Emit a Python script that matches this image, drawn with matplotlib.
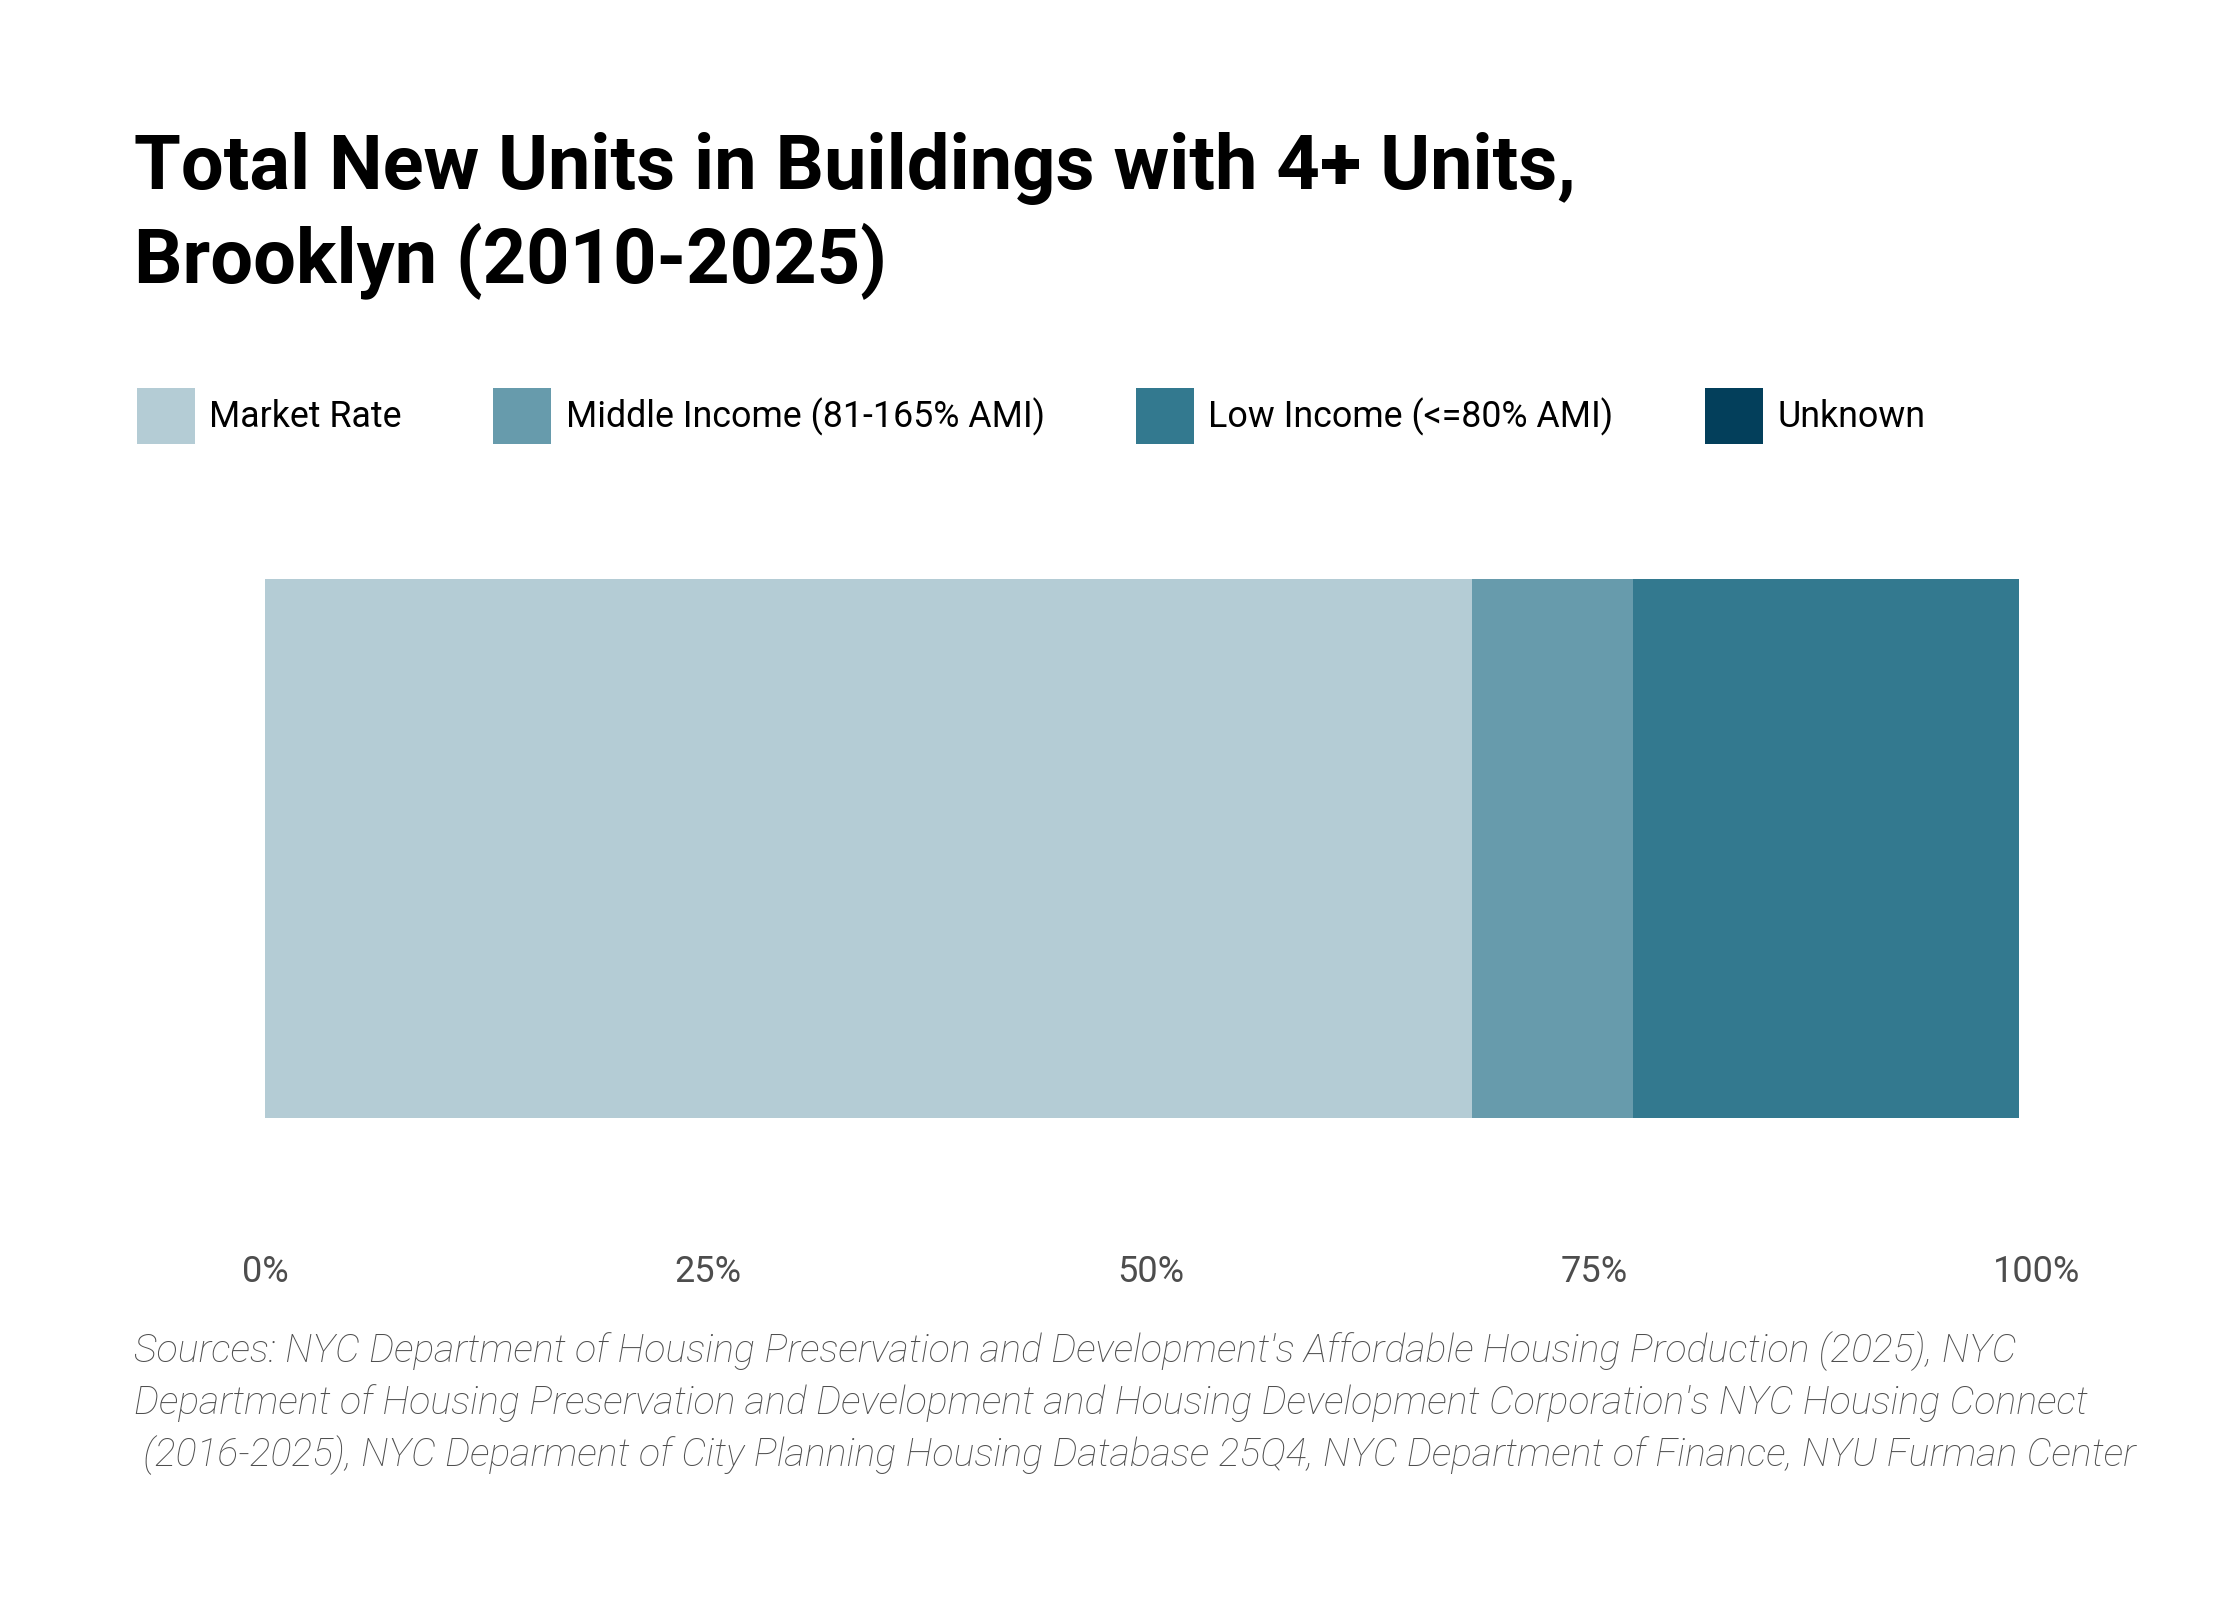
import matplotlib
matplotlib.use("Agg")
import matplotlib.pyplot as plt
from matplotlib import font_manager
from matplotlib.patches import Patch

# data (share of new units, %)
categories = ["Market Rate", "Middle Income (81-165% AMI)", "Low Income (<=80% AMI)", "Unknown"]
shares = [68.1, 9.1, 21.8, 0.0]
colors = ["#b4ccd5", "#679bac", "#33798f", "#033f5b"]
ticks = [0, 25, 50, 75, 100]
tick_labels = ["0%", "25%", "50%", "75%", "100%"]

title_lines = ["Total New Units in Buildings with 4+ Units,", "Brooklyn (2010-2025)"]
source_lines = [
    "Sources: NYC Department of Housing Preservation and Development's Affordable Housing Production (2025), NYC",
    "Department of Housing Preservation and Development and Housing Development Corporation's NYC Housing Connect",
    " (2016-2025), NYC Deparment of City Planning Housing Database 25Q4, NYC Department of Finance, NYU Furman Center",
]

installed = {f.name for f in font_manager.fontManager.ttflist}
narrow = "Liberation Sans Narrow" if "Liberation Sans Narrow" in installed else "Roboto"
body = "Roboto"

fig = plt.figure(figsize=(11.2, 8), dpi=200)
fig.patch.set_facecolor("white")

ax = fig.add_axes([265 / 2240, 1 - 1118 / 1600, (2037 - 265) / 2240, (1118 - 579) / 1600])
left = 0
for name, val, col in zip(categories, shares, colors):
    ax.barh(0, val, left=left, height=1.0, color=col, label=name)
    left += val

ax.set_xlim(0, 100)
ax.set_ylim(-0.5, 0.5)
ax.set_yticks([])
ax.set_xticks(ticks)
ax.set_xticklabels(tick_labels, fontsize=13, color="#4d4d4d", family=body)
ax.tick_params(axis="x", length=0, pad=49)
for s in ax.spines.values():
    s.set_visible(False)

# title
fig.text(134 / 2240, 1 - 189 / 1600, title_lines[0], fontsize=27.3, fontweight="bold",
         family=narrow, va="baseline", ha="left", color="black")
fig.text(134 / 2240, 1 - 283 / 1600, title_lines[1], fontsize=27.3, fontweight="bold",
         family=narrow, va="baseline", ha="left", color="black")

# legend
handles = [Patch(facecolor=c, edgecolor="none") for c in colors]
fig.legend(handles, categories, loc="center left", bbox_to_anchor=(137 / 2240, 1 - 416 / 1600),
           ncol=4, frameon=False, borderpad=0, borderaxespad=0,
           handlelength=1.62, handleheight=2.03, handletextpad=0.4, columnspacing=2.55,
           prop={"family": narrow, "size": 12.9})

# sources
for i, line in enumerate(source_lines):
    fig.text(134 / 2240, 1 - (1351 + 52 * i) / 1600, line, fontsize=14.2, style="italic",
             fontweight="light", family=narrow, color="#4f4f4f", va="center", ha="left")

fig.savefig("out.png", dpi=200, facecolor="white")
